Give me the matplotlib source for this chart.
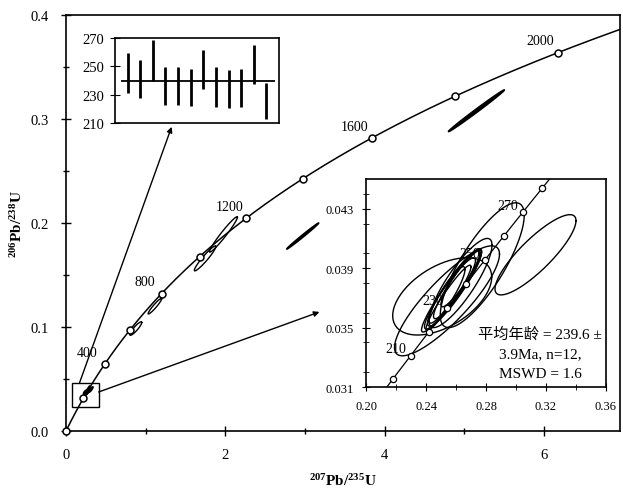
import numpy as np
import matplotlib
matplotlib.use("Agg")
import matplotlib.pyplot as plt
from matplotlib.patches import Rectangle
from matplotlib.ticker import MultipleLocator

plt.rcParams['font.family'] = ['Liberation Serif', 'Noto Sans CJK SC']
plt.rcParams['mathtext.fontset'] = 'custom'
plt.rcParams['mathtext.rm'] = 'Liberation Serif'
plt.rcParams['mathtext.bf'] = 'Liberation Serif:bold'

# decay constants (per Ma)
L238 = 1.55125e-4
L235 = 9.8485e-4

# concordia markers
main_marker_ages = [0, 200, 400, 600, 800, 1000, 1200, 1400, 1600, 1800, 2000]
main_label_ages = [400, 800, 1200, 1600, 2000]
inset_marker_ages = [200, 210, 220, 230, 240, 250, 260, 270, 280]
inset_label_ages = [210, 230, 250, 270]

# error ellipses in the zoomed inset: centre x, centre y, sigma x, sigma y, rho
zr_cx = [0.256, 0.259, 0.255, 0.261, 0.254, 0.263, 0.257, 0.263, 0.2508, 0.2775, 0.254, 0.313]
zr_cy = [0.0373, 0.0377, 0.0370, 0.0379, 0.0372, 0.0383, 0.0375, 0.0380, 0.0371, 0.0392, 0.0368, 0.0399]
zr_sx = [0.017, 0.018, 0.015, 0.016, 0.012, 0.013, 0.020, 0.021, 0.033, 0.028, 0.035, 0.027]
zr_sy = [0.0024, 0.0026, 0.0022, 0.0023, 0.0019, 0.0019, 0.0028, 0.0030, 0.0026, 0.0042, 0.0037, 0.0027]
zr_rho = [0.93, 0.92, 0.95, 0.93, 0.90, 0.92, 0.95, 0.85, 0.50, 0.80, 0.85, 0.85]

# older grains on the main diagram
old_cx = [0.875, 1.115, 1.745, 1.975]
old_cy = [0.0985, 0.120, 0.166, 0.189]
old_sx = [0.075, 0.085, 0.135, 0.175]
old_sy = [0.0065, 0.0075, 0.012, 0.017]
old_rho = [0.90, 0.95, 0.95, 0.97]

# strongly discordant grains (drawn filled)
disc_cx = [2.97, 5.15]
disc_cy = [0.1875, 0.308]
disc_sx = [0.20, 0.35]
disc_sy = [0.0125, 0.020]
disc_rho = [0.995, 0.996]

# 206Pb/238U ages (Ma) and 1 sigma for the weighted-mean inset
spot_age = [245.4, 241.4, 254.3, 235.9, 235.9, 235.1, 247.5, 235.6, 234.2, 234.9, 251.5, 225.6]
spot_err = [14.1, 13.4, 14.5, 13.5, 13.5, 13.1, 13.8, 14.2, 13.4, 13.4, 13.8, 12.5]
mean_age = 239.6


def concordia(t):
    t = np.asarray(t, dtype=float)
    return np.exp(L235 * t) - 1, np.exp(L238 * t) - 1


def ellipse_xy(cx, cy, sx, sy, rho, n=200):
    a = np.linspace(0, 2 * np.pi, n)
    x = cx + sx * np.cos(a)
    y = cy + sy * (rho * np.cos(a) + np.sqrt(1 - rho ** 2) * np.sin(a))
    return x, y


fig = plt.figure(figsize=(6.23, 4.89), dpi=100)
ax = fig.add_axes([0.106, 0.1166, 0.889, 0.8505])

# main concordia
tt = np.linspace(0, 2150, 600)
cx, cy = concordia(tt)
ax.plot(cx, cy, color='k', lw=1.1)
mx, my = concordia(main_marker_ages)
ax.plot(mx, my, 'o', ms=5, mfc='white', mec='k', mew=1.1, clip_on=False, zorder=5)
lx, ly = concordia(main_label_ages)
for age, x, y in zip(main_label_ages, lx, ly):
    ax.annotate(str(age), (x, y), xytext=(-17, 12), textcoords='offset pixels',
                ha='center', va='center', fontsize=10)

for c in zip(old_cx, old_cy, old_sx, old_sy, old_rho):
    ex, ey = ellipse_xy(*c)
    ax.plot(ex, ey, color='k', lw=1.0)
for c in zip(disc_cx, disc_cy, disc_sx, disc_sy, disc_rho):
    ex, ey = ellipse_xy(*c)
    ax.fill(ex, ey, color='k', lw=1.2)
for c in zip(zr_cx, zr_cy, zr_sx, zr_sy, zr_rho):
    ex, ey = ellipse_xy(*c)
    ax.fill(ex, ey, color='k', lw=1.0)

ax.add_patch(Rectangle((0.07, 0.023), 0.34, 0.0235, fill=False, ec='k', lw=1.0))
arrow = dict(arrowstyle='-|>', color='k', lw=1.0, mutation_scale=8, shrinkA=0, shrinkB=0)
ax.annotate('', xy=(1.325, 0.2925), xytext=(0.17, 0.0465), arrowprops=arrow)
ax.annotate('', xy=(3.18, 0.1145), xytext=(0.41, 0.0375), arrowprops=arrow)

ax.set_xlim(0, 6.95)
ax.set_ylim(0, 0.4)
ax.xaxis.set_major_locator(MultipleLocator(2))
ax.xaxis.set_minor_locator(MultipleLocator(1))
ax.yaxis.set_major_locator(MultipleLocator(0.1))
ax.yaxis.set_minor_locator(MultipleLocator(0.05))
ax.xaxis.set_major_formatter(plt.FuncFormatter(lambda v, p: f"{v:.0f}"))
ax.yaxis.set_major_formatter(plt.FuncFormatter(lambda v, p: f"{v:.1f}"))
ax.tick_params(which='both', direction='inout', labelsize=10.5, width=1.0)
ax.tick_params(which='major', length=7, pad=9)
ax.tick_params(which='minor', length=5)
for s in ax.spines.values():
    s.set_linewidth(1.2)
ax.set_xlabel(r'$\mathbf{^{207}Pb/^{235}U}$', fontsize=11, labelpad=8)
ax.set_ylabel(r'$\mathbf{^{206}Pb/^{238}U}$', fontsize=11, labelpad=4)

# weighted-mean age inset
axw = fig.add_axes([0.1846, 0.7464, 0.2632, 0.1738])
idx = np.arange(1, len(spot_age) + 1)
lo = np.array(spot_age) - np.array(spot_err)
hi = np.array(spot_age) + np.array(spot_err)
axw.vlines(idx, lo, hi, color='k', lw=2.0)
axw.hlines(mean_age, 0.45, len(spot_age) + 0.7, color='k', lw=1.3)
axw.set_xlim(0, 13)
axw.set_ylim(210, 270)
axw.set_yticks([210, 230, 250, 270])
axw.set_xticks([])
axw.tick_params(axis='y', direction='inout', length=7, labelsize=10.5, pad=4)
for s in axw.spines.values():
    s.set_linewidth(1.2)

# zoomed concordia inset
axz = fig.add_axes([0.5875, 0.2065, 0.3852, 0.4254])
tz = np.linspace(190, 300, 300)
zx, zy = concordia(tz)
axz.plot(zx, zy, color='k', lw=0.9)
for c in zip(zr_cx, zr_cy, zr_sx, zr_sy, zr_rho):
    ex, ey = ellipse_xy(*c)
    axz.plot(ex, ey, color='k', lw=1.0)
zmx, zmy = concordia(inset_marker_ages)
axz.plot(zmx, zmy, 'o', ms=4.5, mfc='white', mec='k', mew=0.9, zorder=5)
zlx, zly = concordia(inset_label_ages)
for age, x, y in zip(inset_label_ages, zlx, zly):
    axz.annotate(str(age), (x, y), xytext=(-15, 7), textcoords='offset pixels',
                 ha='center', va='center', fontsize=10)
axz.text(0.725, 0.29, '平均年龄 = 239.6 ±\n3.9Ma, n=12,\nMSWD = 1.6', transform=axz.transAxes,
         ha='center', va='top', fontsize=11, linespacing=1.65)
axz.set_xlim(0.20, 0.36)
axz.set_ylim(0.031, 0.045)
axz.set_xticks([0.20, 0.24, 0.28, 0.32, 0.36])
axz.set_yticks([0.031, 0.035, 0.039, 0.043])
axz.xaxis.set_minor_locator(MultipleLocator(0.02))
axz.yaxis.set_minor_locator(MultipleLocator(0.002))
axz.xaxis.set_major_formatter(plt.FuncFormatter(lambda v, p: f"{v:.2f}"))
axz.yaxis.set_major_formatter(plt.FuncFormatter(lambda v, p: f"{v:.3f}"))
axz.tick_params(which='both', direction='inout', labelsize=9)
axz.tick_params(which='major', length=6, pad=6)
axz.tick_params(which='minor', length=4)
for s in axz.spines.values():
    s.set_linewidth(1.2)

fig.savefig('out.png', dpi=100)
